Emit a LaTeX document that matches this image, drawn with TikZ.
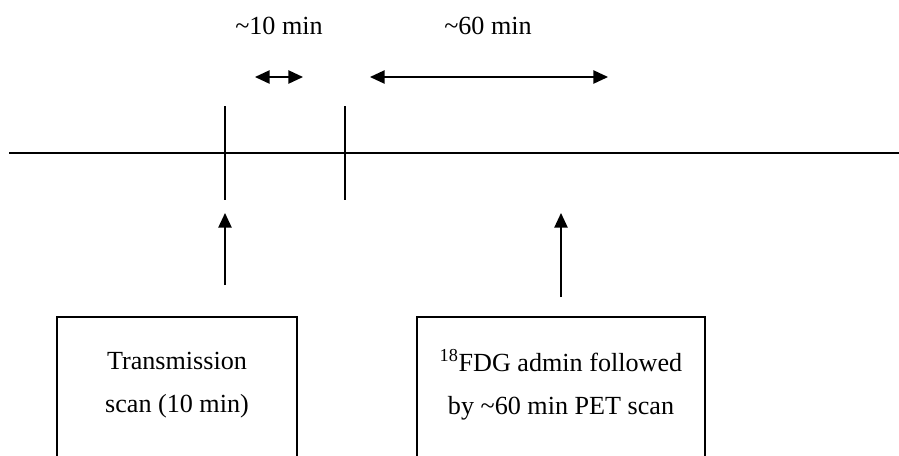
\documentclass[tikz,border=0pt]{standalone}
\usepackage{fontspec}
\setmainfont{Liberation Serif}
\usetikzlibrary{arrows.meta,positioning}
\tikzset{
    stepbox/.style={rectangle, draw=black, line width=1.5pt, minimum width=#1, minimum height=120pt, anchor=north},
    steptext/.style={align=center, font=\fontsize{19.6}{32}\selectfont, inner sep=0pt},
    dur/.style={font=\fontsize{19.6}{24}\selectfont, inner sep=0pt},
    marker/.style={line width=1.1pt},
    pil/.style={-{Triangle[length=11pt,width=10pt]}, line width=1.1pt},
    span/.style={{Triangle[length=11pt,width=10pt]}-{Triangle[length=11pt,width=10pt]}, line width=1.1pt}
}

\begin{document}
\begin{tikzpicture}[x=0.75pt, y=-0.75pt]
    \useasboundingbox (0,0) rectangle (899,455);
    \clip (0,0) rectangle (899,455);

    % time axis
    \coordinate (axis start) at (9,153);
    \coordinate (axis end) at (899,153);
    \draw[line width=1.5pt] (axis start) -- (axis end);

    % event markers on the axis
    \coordinate (trans top) at (225,106);
    \coordinate (trans bot) at (225,200);
    \coordinate (fdg top) at (345,106);
    \coordinate (fdg bot) at (345,200);
    \draw[marker] (trans top) -- (trans bot);
    \draw[marker] (fdg top) -- (fdg bot);

    % durations
    \coordinate (gap a) at (255,77);
    \coordinate (gap b) at (303,77);
    \coordinate (scan a) at (370,77);
    \coordinate (scan b) at (608,77);
    \draw[span] (gap a) -- (gap b);
    \draw[span] (scan a) -- (scan b);
    \node[dur] (gap) at (279,26) {\textasciitilde10 min};
    \node[dur] (scan) at (488,26) {\textasciitilde60 min};

    % boxes below the axis
    \node[stepbox=180pt] (transbox) at (177,316) {};
    \node[steptext] (transtext) at (177,385) {Transmission\\scan (10 min)};
    \node[stepbox=216pt] (fdgbox) at (561,316) {};
    \node[steptext] (fdgtext) at (561,385) {\textsuperscript{18}FDG admin followed\\by \textasciitilde60 min PET scan};

    % pointers up to the axis
    \coordinate (trans from) at (225,285);
    \coordinate (trans to) at (225,213);
    \coordinate (fdg from) at (561,297);
    \coordinate (fdg to) at (561,213);
    \draw[pil] (trans from) -- (trans to);
    \draw[pil] (fdg from) -- (fdg to);
\end{tikzpicture}
\end{document}
